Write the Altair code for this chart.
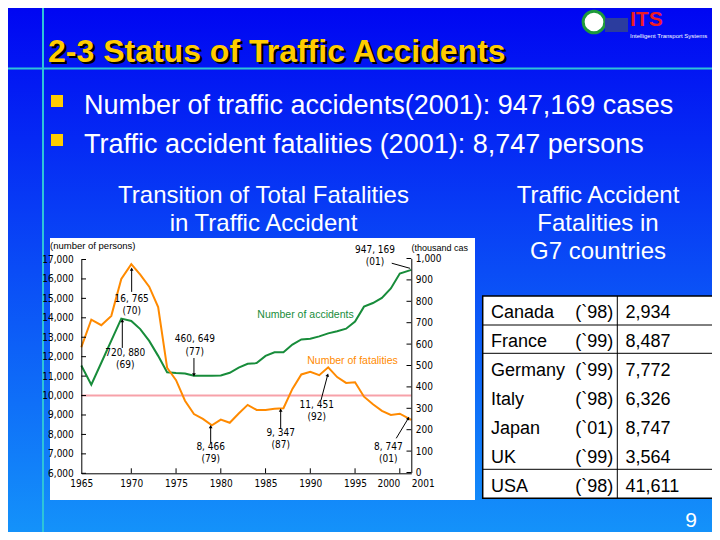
import altair as alt
import pandas as pd

# ---------------- data ----------------
years = list(range(1965, 2002))
fatalities = [12484, 13904, 13618, 14100, 16000, 16765, 16220, 15600, 14550, 11432,
              10792, 9734, 9050, 8800, 8466, 8760, 8600, 9073, 9520, 9262,
              9261, 9317, 9347, 10344, 11086, 11227, 11050, 11451, 10950, 10649,
              10684, 9942, 9550, 9211, 9006, 9066, 8747]
accidents_k = [500, 410, 513, 616, 719, 708, 670, 615, 545, 468,
               465, 463, 452, 452, 452, 453, 466, 490, 508, 511,
               545, 562, 562, 598, 622, 625, 636, 650, 660, 672,
               705, 775, 792, 816, 860, 930, 947]

left_ticks = list(range(6000, 17001, 1000))
right_ticks = list(range(0, 1001, 100))
year_labels = [1965, 1970, 1975, 1980, 1985, 1990, 1995, 2000, 2001]
year_ticks = [1970, 1975, 1980, 1985, 1990, 1995, 2000]
reference_level = [10000]

fat_ann_num = ["16, 765", "8, 466", "9, 347", "11, 451", "8, 747"]
fat_ann_yr = ["(70)", "(79)", "(87)", "(92)", "(01)"]
fat_ann_tx = [1970.04, 1978.87, 1986.69, 1990.72, 1998.72]
fat_ann_ty = [14657, 7055, 7775, 9194, 7055]
fat_arr_x0 = [1970.04, 1978.87, 1986.69, 1991.2, 1999.6]
fat_arr_y0 = [15335, 7543, 8315, 9770, 7800]
fat_arr_x1 = [1970.04, 1978.87, 1986.69, 1991.94, 2000.74]
fat_arr_y1 = [16510, 8397, 9256, 11057, 8829]
fat_head_angle = [0, 0, 0, 15, 27]

acc_ann_num = ["720, 880", "460, 649", "947, 169"]
acc_ann_yr = ["(69)", "(77)", "(01)"]
acc_ann_tx = [1969.4, 1977.1, 1997.23]
acc_ann_ty = [529, 594, 1011]
acc_arr_x0 = [1969.1, 1977.0, 1999.1]
acc_arr_y0 = [582, 535, 978]
acc_arr_x1 = [1969.1, 1977.0, 2000.9]
acc_arr_y1 = [710, 456, 954]
acc_head_angle = [0, 180]

countries = ["Canada", "France", "Germany", "Italy", "Japan", "UK", "USA"]
data_years = ["(`98)", "(`99)", "(`99)", "(`98)", "(`01)", "(`99)", "(`98)"]
g7_fatalities = [2934, 8487, 7772, 6326, 8747, 3564, 41611]

title_text = "2-3 Status of Traffic Accidents"
bullets = ["Number of traffic accidents(2001): 947,169 cases",
           "Traffic accident fatalities (2001): 8,747 persons"]
left_title = ["Transition of Total Fatalities", "in Traffic Accident"]
right_title = ["Traffic Accident", "Fatalities in", "G7 countries"]

# ---------------- style ----------------
W, H = 704, 524
OFF = 8
def px(v):
    return v - OFF

FONT = "Liberation Sans, Arial, Helvetica, sans-serif"
NARROW = "Liberation Sans Narrow, Arial Narrow, DejaVu Sans Condensed, sans-serif"
GREEN = "#178C3A"
ORANGE = "#FF8A00"
PINK = "#F7A1A9"
YELLOW = "#FFCC00"
CYAN = "#2EC4D8"

one = pd.DataFrame({"k": [0]})

def label(text, x, y, size, color="white", align="left", weight="normal", font=FONT, **kw):
    return alt.Chart(one).mark_text(text=text, align=align, baseline="alphabetic",
                                    fontSize=size, color=color, font=font,
                                    fontWeight=weight, **kw).encode(
        x=alt.value(px(x)), y=alt.value(px(y)))

def hline(x0, x1, y, color, w):
    return alt.Chart(one).mark_rule(color=color, strokeWidth=w).encode(
        x=alt.value(px(x0)), x2=alt.value(px(x1)), y=alt.value(px(y)))

def vline(x, y0, y1, color, w):
    return alt.Chart(one).mark_rule(color=color, strokeWidth=w).encode(
        x=alt.value(px(x)), y=alt.value(px(y0)), y2=alt.value(px(y1)))

def box(x0, y0, x1, y1, fill, stroke=None, sw=0):
    kw = dict(fill=fill)
    if stroke:
        kw.update(stroke=stroke, strokeWidth=sw)
    return alt.Chart(one).mark_rect(**kw).encode(
        x=alt.value(px(x0)), x2=alt.value(px(x1)),
        y=alt.value(px(y0)), y2=alt.value(px(y1)))

layers = []

# background
layers.append(alt.Chart(one).mark_rect(fill={
    "gradient": "linear", "x1": 0, "y1": 0, "x2": 0, "y2": 1,
    "stops": [{"offset": 0, "color": "#0006F2"}, {"offset": 1, "color": "#1492FA"}]
}).encode(x=alt.value(0), x2=alt.value(W), y=alt.value(0), y2=alt.value(H)))
layers.append(vline(43, 0, 540, CYAN, 2))
layers.append(hline(0, 720, 68.5, CYAN, 2))

# logo (kept inside the visible page area)
layers.append(alt.Chart(one).mark_point(shape="circle", size=470, filled=True, fill="white",
                                        stroke="#1E9A3C", strokeWidth=3, opacity=1).encode(
    x=alt.value(px(594)), y=alt.value(px(22))))
layers.append(box(605, 18, 628, 32, "#2B3C9E"))
layers.append(label("ITS", 630, 26, 21, color="#EE1C24", weight="bold"))
layers.append(label("Intelligent Transport Systems", 630, 38, 6))

# title & bullets
layers.append(label(title_text, 50.5, 64, 32, color="black", weight="bold"))
layers.append(label(title_text, 48, 61.5, 32, color=YELLOW, weight="bold"))
layers.append(box(51, 95, 63, 107, YELLOW))
layers.append(box(51, 134, 63, 146, YELLOW))
layers.append(label(bullets[0], 84, 114, 27))
layers.append(label(bullets[1], 84, 153, 27))

# section titles
layers.append(label(left_title[0], 263.5, 203, 24, align="center"))
layers.append(label(left_title[1], 263.5, 231, 24, align="center"))
for i, t in enumerate(right_title):
    layers.append(label(t, 598, 203 + 28 * i, 24, align="center"))

# chart panel
layers.append(box(50, 238, 475, 500, "white"))

XS = alt.Scale(domain=[1965, 1970, 2000, 2001],
               range=[px(81.3), px(131.3), px(399.8), px(411.3)], nice=False, zero=False)
YL = alt.Scale(domain=[6000, 17000], range=[px(473.3), px(259.5)], nice=False, zero=False)
YR = alt.Scale(domain=[0, 1000], range=[px(472.5), px(258.5)], nice=False, zero=False)

common_axis = dict(tickSize=0, domainColor="black", domainWidth=1, labelColor="black",
                   labelFont=NARROW, labelFontSize=10, grid=False, title=None, zindex=1,
                   labelFlush=False, labelOverlap=False)
x_axis = alt.Axis(orient="bottom", offset=px(473.3) - H, values=year_labels, format="d",
                  labelPadding=5,
                  labelAlign={"condition": [{"test": "datum.value == 2000", "value": "right"},
                                            {"test": "datum.value == 2001", "value": "left"}],
                              "value": "center"},
                  **common_axis)
yl_axis = alt.Axis(orient="left", offset=-px(81.3), values=left_ticks, format=",d",
                   labelPadding=8, **common_axis)
yr_axis = alt.Axis(orient="right", offset=px(411.3) - W, values=right_ticks, format=",d",
                   labelPadding=4, **common_axis)

df = pd.DataFrame({"year": years, "fatal": fatalities, "acc": accidents_k})

layers.append(alt.Chart(pd.DataFrame({"x0": [1965], "x1": [2001], "v": reference_level}))
              .mark_rule(color=PINK, strokeWidth=2).encode(
    x=alt.X("x0:Q", scale=XS, axis=None), x2="x1:Q",
    y=alt.Y("v:Q", scale=YL, axis=None)))

layers.append(alt.Chart(df).mark_line(color=GREEN, strokeWidth=2).encode(
    x=alt.X("year:Q", scale=XS, axis=None),
    y=alt.Y("acc:Q", scale=YR, axis=yr_axis)))
layers.append(alt.Chart(df).mark_line(color=ORANGE, strokeWidth=2).encode(
    x=alt.X("year:Q", scale=XS, axis=x_axis),
    y=alt.Y("fatal:Q", scale=YL, axis=yl_axis)))

# inward ticks
layers.append(alt.Chart(pd.DataFrame({"v": left_ticks})).mark_rule(color="black").encode(
    y=alt.Y("v:Q", scale=YL, axis=None), x=alt.value(px(81.3)), x2=alt.value(px(86))))
layers.append(alt.Chart(pd.DataFrame({"v": right_ticks})).mark_rule(color="black").encode(
    y=alt.Y("v:Q", scale=YR, axis=None), x=alt.value(px(406.5)), x2=alt.value(px(411.3))))
layers.append(alt.Chart(pd.DataFrame({"v": year_ticks})).mark_rule(color="black").encode(
    x=alt.X("v:Q", scale=XS, axis=None), y=alt.value(px(468.3)), y2=alt.value(px(473.3))))

# annotations
fa = pd.DataFrame({"num": fat_ann_num, "yr": fat_ann_yr, "tx": fat_ann_tx, "ty": fat_ann_ty,
                   "x0": fat_arr_x0, "y0": fat_arr_y0, "x1": fat_arr_x1, "y1": fat_arr_y1,
                   "ang": fat_head_angle})
ac = pd.DataFrame({"num": acc_ann_num, "yr": acc_ann_yr, "tx": acc_ann_tx, "ty": acc_ann_ty,
                   "x0": acc_arr_x0, "y0": acc_arr_y0, "x1": acc_arr_x1, "y1": acc_arr_y1})
ac_heads = ac.iloc[:2].assign(ang=acc_head_angle)

for d, ys in ((fa, YL), (ac, YR)):
    for field, dy in (("num", -6.2), ("yr", 6.2)):
        layers.append(alt.Chart(d).mark_text(font=NARROW, fontSize=10, color="black",
                                             baseline="middle", dy=dy).encode(
            x=alt.X("tx:Q", scale=XS, axis=None), y=alt.Y("ty:Q", scale=ys, axis=None),
            text=f"{field}:N"))
    layers.append(alt.Chart(d).mark_rule(color="black", strokeWidth=1).encode(
        x=alt.X("x0:Q", scale=XS, axis=None), x2="x1:Q",
        y=alt.Y("y0:Q", scale=ys, axis=None), y2="y1:Q"))
for d, ys in ((fa, YL), (ac_heads, YR)):
    layers.append(alt.Chart(d).mark_point(shape="triangle-up", filled=True, color="black",
                                          size=14, opacity=1).encode(
        x=alt.X("x1:Q", scale=XS, axis=None), y=alt.Y("y1:Q", scale=ys, axis=None),
        angle=alt.Angle("ang:Q", scale=None)))

# series labels and axis titles
layers.append(label("Number of accidents", 305.5, 318, 10.5, color=GREEN, align="center"))
layers.append(label("Number of fatalities", 352.5, 364, 10.5, color=ORANGE, align="center"))
layers.append(label("(number of persons)", 50, 248.5, 9.5, color="black"))
layers.append(label("(thousand cases)", 411.5, 251, 9, color="black", limit=64, ellipsis=" "))

# G7 table
layers.append(box(482.7, 296, 719, 498.3, "white", stroke="black", sw=1.5))
layers.append(vline(617.3, 296, 498.3, "black", 1))
for yy in (325, 353.3, 469.3):
    layers.append(hline(482.7, 719, yy, "black", 1))

tdf = pd.DataFrame({"country": countries, "yr": data_years, "n": g7_fatalities})
TS = alt.Scale(type="point", domain=countries, range=[px(318.3), px(491.7)], padding=0)
layers.append(alt.Chart(tdf).mark_text(align="left", baseline="alphabetic", fontSize=18,
                                       font=FONT, color="black").encode(
    y=alt.Y("country:N", scale=TS, axis=None), x=alt.value(px(491)), text="country:N"))
layers.append(alt.Chart(tdf).mark_text(align="right", baseline="alphabetic", fontSize=18,
                                       font=FONT, color="black").encode(
    y=alt.Y("country:N", scale=TS, axis=None), x=alt.value(px(613.3)), text="yr:N"))
layers.append(alt.Chart(tdf).mark_text(align="left", baseline="alphabetic", fontSize=18,
                                       font=FONT, color="black").encode(
    y=alt.Y("country:N", scale=TS, axis=None), x=alt.value(px(625.5)),
    text=alt.Text("n:Q", format=",")))

# page number
layers.append(label("9", 691, 527, 21, align="center"))

chart = alt.layer(*layers).resolve_scale(x="independent", y="independent").properties(
    width=W, height=H, padding=0, autosize=alt.AutoSizeParams(type="none")
).configure_view(stroke=None)

chart.save("out.html", embed_options={"renderer": "svg", "actions": False})
